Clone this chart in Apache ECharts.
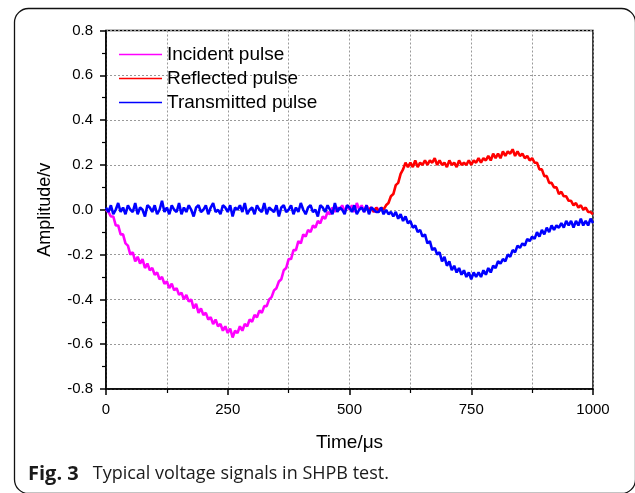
<!DOCTYPE html>
<html><head><meta charset="utf-8">
<script src="https://cdn.jsdelivr.net/npm/echarts@6/dist/echarts.min.js"></script>
<style>html,body{margin:0;padding:0;background:#fff}#c{width:635px;height:493px}</style>
</head><body><div id="c"></div>
<script>
// ---- data ----
const step = 5;
const incidentStart = 0;
const incident = [
0.00,-0.01,-0.03,-0.03,-0.07,-0.07,-0.11,-0.11,-0.15,-0.16,
-0.20,-0.19,-0.23,-0.21,-0.24,-0.22,-0.26,-0.24,-0.27,-0.26,
-0.29,-0.28,-0.31,-0.30,-0.33,-0.32,-0.35,-0.33,-0.36,-0.35,
-0.38,-0.37,-0.40,-0.38,-0.41,-0.40,-0.44,-0.42,-0.46,-0.44,
-0.47,-0.46,-0.49,-0.48,-0.51,-0.49,-0.52,-0.51,-0.54,-0.52,
-0.55,-0.53,-0.57,-0.54,-0.55,-0.52,-0.54,-0.51,-0.52,-0.49,
-0.50,-0.47,-0.48,-0.45,-0.46,-0.43,-0.43,-0.40,-0.39,-0.36,
-0.35,-0.32,-0.31,-0.27,-0.26,-0.22,-0.22,-0.18,-0.18,-0.14,
-0.15,-0.11,-0.12,-0.09,-0.10,-0.07,-0.08,-0.05,-0.06,-0.03,
-0.04,-0.01,-0.02,0.01,-0.01,0.01,0.00,0.02,-0.01,0.02,
0.00,0.02,-0.01,0.03,0.00,0.02,-0.01,0.02,0.00,0.01,
-0.01,0.01,0.00
];
const reflectedStart = 540;
const reflected = [
0.00,0.01,-0.01,0.01,-0.01,0.01,0.00,0.02,0.03,0.06,
0.07,0.11,0.12,0.16,0.18,0.21,0.19,0.21,0.19,0.22,
0.19,0.21,0.20,0.22,0.20,0.22,0.21,0.23,0.20,0.22,
0.20,0.21,0.19,0.22,0.20,0.21,0.19,0.22,0.20,0.21,
0.20,0.22,0.20,0.22,0.21,0.23,0.21,0.23,0.22,0.24,
0.22,0.25,0.23,0.25,0.23,0.26,0.24,0.26,0.25,0.27,
0.24,0.26,0.24,0.25,0.23,0.24,0.22,0.23,0.21,0.21,
0.18,0.18,0.15,0.15,0.12,0.12,0.10,0.10,0.07,0.08,
0.06,0.06,0.04,0.04,0.02,0.03,0.01,0.02,0.00,0.01,
-0.01,-0.01,-0.02
];
const transmittedStart = 0;
const transmitted = [
0.01,-0.01,0.02,-0.02,0.00,0.03,-0.01,0.01,-0.02,0.02,
0.00,-0.01,0.03,-0.02,0.01,0.00,-0.03,0.02,0.01,-0.01,
0.02,-0.02,0.00,0.04,-0.01,0.01,-0.02,0.02,0.00,-0.01,
0.03,-0.02,0.01,-0.01,0.02,0.00,-0.03,0.01,0.02,-0.01,
0.00,0.02,-0.02,0.01,0.03,-0.01,0.00,-0.02,0.02,0.01,
-0.01,0.02,-0.03,0.01,0.00,0.02,-0.01,0.03,-0.02,0.00,
0.01,-0.02,0.02,0.00,-0.01,0.03,-0.02,0.01,0.00,-0.01,
0.02,-0.03,0.01,0.02,-0.01,0.00,0.02,-0.02,0.01,-0.01,
0.03,0.00,-0.02,0.01,0.02,-0.01,0.00,-0.03,0.02,0.01,
-0.01,0.02,0.00,-0.02,0.03,-0.01,0.01,0.00,-0.02,0.02,
0.01,-0.01,0.02,-0.02,0.00,0.01,-0.01,0.02,-0.02,0.01,
0.00,-0.01,
-0.01,0.01,-0.02,0.00,-0.02,-0.01,-0.03,-0.01,-0.04,-0.02,
-0.05,-0.03,-0.06,-0.05,-0.08,-0.07,-0.10,-0.09,-0.12,-0.11,
-0.15,-0.14,-0.18,-0.17,-0.20,-0.19,-0.23,-0.21,-0.25,-0.23,
-0.27,-0.25,-0.28,-0.26,-0.29,-0.27,-0.30,-0.28,-0.31,-0.28,
-0.30,-0.28,-0.30,-0.27,-0.29,-0.26,-0.28,-0.25,-0.26,-0.23,
-0.24,-0.22,-0.23,-0.20,-0.21,-0.18,-0.19,-0.16,-0.17,-0.15,
-0.16,-0.13,-0.14,-0.12,-0.13,-0.10,-0.12,-0.09,-0.11,-0.08,
-0.10,-0.07,-0.09,-0.07,-0.08,-0.06,-0.08,-0.05,-0.07,-0.05,
-0.08,-0.05,-0.07,-0.04,-0.07,-0.05,-0.07,-0.04,-0.06
];
const seriesNames = ['Incident pulse','Reflected pulse','Transmitted pulse'];
const xTicks = [0,250,500,750,1000];
const yTicks = [-0.8,-0.6,-0.4,-0.2,0.0,0.2,0.4,0.6,0.8];

function pairs(start, arr){ return arr.map((v,i)=>[start+i*step, v]); }

const chart = echarts.init(document.getElementById('c'), null, {renderer:'canvas'});
const FONT = 'Liberation Sans, Arial, sans-serif';
const axisCommon = {
  axisLine:{show:true,onZero:false,lineStyle:{color:'#000',width:1.5}},
  axisTick:{show:true,inside:false,length:6,lineStyle:{color:'#000',width:1.5}},
  minorTick:{show:true,splitNumber:2,length:4,lineStyle:{color:'#000',width:1.2}}
};
const LW = 2.6;
chart.setOption({
  animation:false,
  backgroundColor:'#fff',
  grid:{left:106,right:42,top:30.5,bottom:104,show:true,borderColor:'#000',borderWidth:1.5,backgroundColor:'transparent'},
  legend:{
    orient:'vertical',left:114,top:40,itemWidth:43,itemHeight:1.5,itemGap:5,icon:'rect',
    textStyle:{fontSize:19,lineHeight:18,color:'#000',fontFamily:FONT},
    data:seriesNames
  },
  xAxis:Object.assign({},axisCommon,{
    type:'value',min:xTicks[0],max:xTicks[xTicks.length-1],interval:250,
    name:'Time/μs',nameLocation:'middle',nameGap:44,
    nameTextStyle:{fontSize:19,color:'#000',fontFamily:FONT},
    axisLabel:{color:'#000',fontSize:15,fontFamily:FONT,margin:13,formatter:v=>String(v)},
    splitLine:{show:true,lineStyle:{color:'#999',type:[2,2],width:1}},
    minorSplitLine:{show:true,lineStyle:{color:'#999',type:[2,2],width:1}}
  }),
  yAxis:Object.assign({},axisCommon,{
    type:'value',min:yTicks[0],max:yTicks[yTicks.length-1],interval:0.2,
    name:'Amplitude/v',nameLocation:'middle',nameGap:52,nameRotate:90,
    nameTextStyle:{fontSize:18,color:'#000',fontFamily:FONT},
    axisLabel:{color:'#000',fontSize:15,fontFamily:FONT,margin:13,formatter:v=>v.toFixed(1)},
    splitLine:{show:true,lineStyle:{color:'#999',type:[2,2],width:1}}
  }),
  series:[
    {name:seriesNames[0],type:'line',symbol:'none',data:pairs(incidentStart,incident),lineStyle:{color:'#ff00ff',width:LW},itemStyle:{color:'#ff00ff'}},
    {name:seriesNames[1],type:'line',symbol:'none',data:pairs(reflectedStart,reflected),lineStyle:{color:'#ff0000',width:LW},itemStyle:{color:'#ff0000'}},
    {name:seriesNames[2],type:'line',symbol:'none',data:pairs(transmittedStart,transmitted),lineStyle:{color:'#0000ff',width:LW},itemStyle:{color:'#0000ff'}}
  ],
  graphic:[
    {type:'rect',left:12,top:6,shape:{width:621,height:485,r:14},style:{fill:'none',stroke:'#111',lineWidth:1.3},silent:true},
    {type:'text',left:28,top:464,style:{
      text:'{b|Fig. 3}{n|Typical voltage signals in SHPB test.}',
      rich:{
        b:{fontFamily:'Open Sans, sans-serif',fontWeight:'bold',fontSize:20,fill:'#1a1a1a',padding:[0,14,0,0]},
        n:{fontFamily:'Open Sans, sans-serif',fontWeight:'normal',fontSize:18,fill:'#1a1a1a'}
      }
    }}
  ]
});
</script></body></html>
